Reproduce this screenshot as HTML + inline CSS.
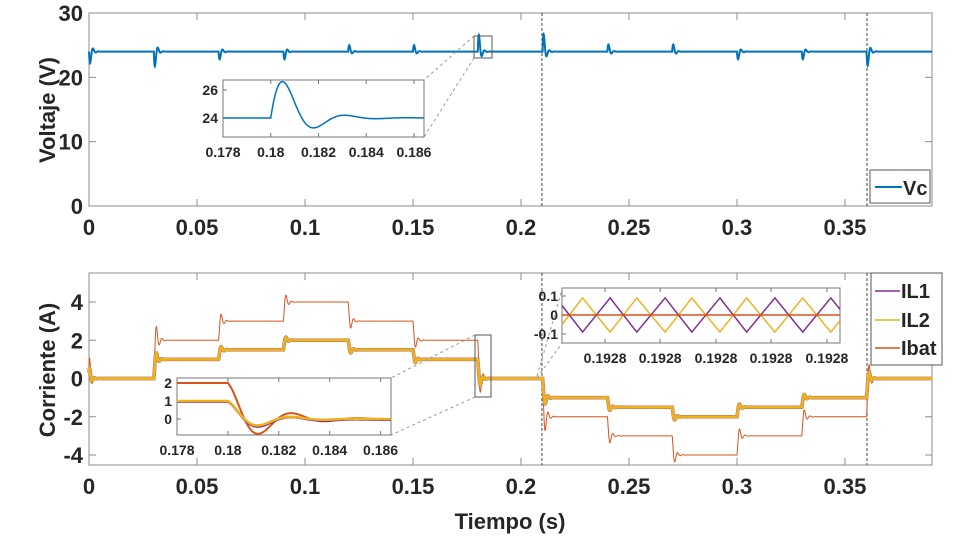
<!DOCTYPE html>
<html><head><meta charset="utf-8"><style>
body{margin:0;background:#fff}
svg text{font-family:"Liberation Sans",Arial,sans-serif;font-weight:bold;fill:#262626}
</style></head><body>
<svg id="c" width="953" height="543" viewBox="0 0 953 543" xmlns="http://www.w3.org/2000/svg"></svg>
<script>
// ---- data ----
const xTicks = [0, 0.05, 0.1, 0.15, 0.2, 0.25, 0.3, 0.35];
const xTickLabels = ["0", "0.05", "0.1", "0.15", "0.2", "0.25", "0.3", "0.35"];
const vTicks = [0, 10, 20, 30];
const iTicks = [-4, -2, 0, 2, 4];
const vcBase = 24;
const vcEventTimes = [0, 0.03, 0.06, 0.09, 0.12, 0.15, 0.18, 0.21, 0.24, 0.27, 0.30, 0.33, 0.36];
const vcEventAmps = [-1.8, -2.3, -1.2, -1.2, 1.0, 1.0, 2.6, 2.7, 1.1, 1.1, -1.2, -1.2, -2.2];
const stepTimes = [0.03, 0.06, 0.09, 0.12, 0.15, 0.18, 0.21, 0.24, 0.27, 0.30, 0.33, 0.36];
const ibatLevels = [0, 2, 3, 4, 3, 2, 0, -2, -3, -4, -3, -2, 0];
const ilLevels = [0, 1, 1.5, 2, 1.5, 1, 0, -1, -1.5, -2, -1.5, -1, 0];
const dashTimes = [0.2097, 0.3602];
const inset1Ticks = [0.178, 0.18, 0.182, 0.184, 0.186];
const inset1TickLabels = ["0.178", "0.18", "0.182", "0.184", "0.186"];
const insetVTicks = [24, 26];
const inset2YTicks = [0, 1, 2];
const rippleT = [0, 7.4, 17.3, 26.9, 37.1, 46.7, 56.8, 66.4, 76.6, 86.6, 96.7, 100];
const rippleIL1 = [0.05, -0.09, 0.09, -0.09, 0.09, -0.09, 0.09, -0.09, 0.09, -0.09, 0.09, 0.03];
const rippleIL2 = [-0.05, 0.09, -0.09, 0.09, -0.09, 0.09, -0.09, 0.09, -0.09, 0.09, -0.09, -0.03];
const rippleTicks = [15.5, 35.3, 55.4, 75.2, 95.3];
const rippleTickLabels = ["0.1928", "0.1928", "0.1928", "0.1928", "0.1928"];
const rippleYTicks = [-0.1, 0, 0.1];
const rippleYLabels = ["-0.1", "0", "0.1"];

const C = {blue:"#0072BD", orange:"#D95319", yellow:"#EDB120", purple:"#7E2F8E"};
const svg = document.getElementById('c');
const NS = "http://www.w3.org/2000/svg";
function el(tag, attrs, parent){const e=document.createElementNS(NS,tag);for(const k in attrs)e.setAttribute(k,attrs[k]);(parent||svg).appendChild(e);return e;}
function lin(d0,d1,r0,r1){return v=>r0+(v-d0)*(r1-r0)/(d1-d0);}

function vcAt(t){let v=vcBase;for(let i=0;i<vcEventTimes.length;i++){const tau=t-vcEventTimes[i];if(tau>=0&&tau<0.02){v+=vcEventAmps[i]*1.76*Math.exp(-tau/0.001)*Math.sin(2*Math.PI*tau/0.0026);}}return v;}
function curAt(t,levels,T){let idx=0;for(let i=0;i<stepTimes.length;i++)if(t>=stepTimes[i])idx=i+1;let v=levels[idx];for(let i=0;i<stepTimes.length;i++){const tau=t-stepTimes[i];if(tau>=0&&tau<0.02){const d=levels[i+1]-levels[i];v-=d*Math.exp(-tau/T)*Math.cos(2*Math.PI*tau/0.0026);}}
 if(t<0.015){v+=(levels===ibatLevels?1.6:0.8)*Math.exp(-t/0.0008)*Math.sin(2*Math.PI*t/0.0022+0.4);}return v;}

function pathFrom(fn,t0,t1,dt,sx,sy){let d="";for(let t=t0;t<=t1+1e-12;t+=dt){d+=(d?"L":"M")+sx(t).toFixed(2)+","+sy(fn(t)).toFixed(2);}return d;}

const X0=89,X1=932,TMAX=0.3903;
const sx=lin(0,TMAX,X0,X1);
function axesBox(name,top,bot,yt,sy){
 const g=el('g',{});
 el('rect',{x:X0,y:top,width:X1-X0,height:bot-top,fill:"#fff",stroke:"#8c8c8c","stroke-width":1},g);
 xTicks.forEach((v,i)=>{const x=sx(v);el('line',{x1:x,x2:x,y1:bot,y2:bot-7,stroke:"#8c8c8c"},g);el('line',{x1:x,x2:x,y1:top,y2:top+7,stroke:"#8c8c8c"},g);
  const t=el('text',{x:x,y:bot+29,"text-anchor":"middle","font-size":22},g);t.textContent=xTickLabels[i];});
 yt.forEach(v=>{const y=sy(v);el('line',{x1:X0,x2:X0+7,y1:y,y2:y,stroke:"#8c8c8c"},g);el('line',{x1:X1,x2:X1-7,y1:y,y2:y,stroke:"#8c8c8c"},g);
  const t=el('text',{x:X0-6,y:y+8,"text-anchor":"end","font-size":22},g);t.textContent=String(v);});
 return g;}

const syV=lin(0,30,206,13);
axesBox('voltage-axes',13,206,vTicks,syV);
dashTimes.forEach(t=>{const l=el('line',{x1:sx(t),x2:sx(t),y1:13,y2:206,stroke:"#444","stroke-dasharray":"3,2","stroke-width":1});});
const vcp=el('path',{d:pathFrom(vcAt,0,TMAX,0.0001,sx,syV),fill:"none",stroke:C.blue,"stroke-width":2});

el('rect',{x:474,y:36,width:18,height:22,fill:"none",stroke:"#555","stroke-width":1});
el('line',{x1:474,y1:36,x2:424,y2:80,stroke:"#999","stroke-dasharray":"3,3"});
el('line',{x1:474,y1:58,x2:424,y2:137,stroke:"#999","stroke-dasharray":"3,3"});
let t=el('text',{x:55,y:110,"text-anchor":"middle","font-size":22,transform:"rotate(-90 55 110)"});t.textContent="Voltaje (V)";
let lg=el('g',{});
el('rect',{x:870,y:170,width:60,height:33,fill:"#fff",stroke:"#555"},lg);
el('line',{x1:875,x2:902,y1:187,y2:187,stroke:C.blue,"stroke-width":2},lg);
t=el('text',{x:903,y:195,"font-size":20},lg);t.textContent="Vc";

(function(){const L=223,R=424,T=80,B=137;const ix=lin(0.178,0.18642,L,R),iy=lin(22.64,26.71,B,T);
 const g=el('g',{});
 el('rect',{x:L,y:T,width:R-L,height:B-T,fill:"#fff",stroke:"#777"},g);
 inset1Ticks.forEach((v,i)=>{const x=ix(v);el('line',{x1:x,x2:x,y1:B,y2:B-4,stroke:"#777"},g);el('line',{x1:x,x2:x,y1:T,y2:T+4,stroke:"#777"},g);const tt=el('text',{x:x,y:B+20,"text-anchor":"middle","font-size":14},g);tt.textContent=inset1TickLabels[i];});
 insetVTicks.forEach(v=>{const y=iy(v);el('line',{x1:L,x2:L+4,y1:y,y2:y,stroke:"#777"},g);const tt=el('text',{x:L-5,y:y+5,"text-anchor":"end","font-size":14},g);tt.textContent=String(v);});
 el('path',{d:pathFrom(vcAt,0.178,0.18642,0.00002,ix,iy),fill:"none",stroke:C.blue,"stroke-width":1.5},g);})();

const syI=lin(-4,4,455,302);
axesBox('current-axes',273,465,iTicks,syI);
dashTimes.forEach(t=>{const l=el('line',{x1:sx(t),x2:sx(t),y1:273,y2:465,stroke:"#444","stroke-dasharray":"3,2","stroke-width":1});});
const ib=el('path',{d:pathFrom(tt=>curAt(tt,ibatLevels,0.0012),0,TMAX,0.0001,sx,syI),fill:"none",stroke:C.orange,"stroke-width":1});

const p1=el('path',{d:pathFrom(tt=>curAt(tt,ilLevels,0.0011),0,TMAX,0.0001,sx,syI),fill:"none",stroke:C.purple,"stroke-width":3.5});

const p2=el('path',{d:pathFrom(tt=>curAt(tt,ilLevels,0.0011),0,TMAX,0.0001,sx,syI),fill:"none",stroke:C.yellow,"stroke-width":3});

el('rect',{x:475,y:335,width:16,height:62,fill:"none",stroke:"#555"});
el('line',{x1:475,y1:335,x2:391,y2:378,stroke:"#999","stroke-dasharray":"3,3"});
el('line',{x1:475,y1:397,x2:391,y2:435,stroke:"#999","stroke-dasharray":"3,3"});
el('line',{x1:537,y1:376,x2:562,y2:290,stroke:"#999","stroke-dasharray":"3,3"});
el('line',{x1:537,y1:378,x2:562,y2:343,stroke:"#999","stroke-dasharray":"3,3"});
t=el('text',{x:55,y:370,"text-anchor":"middle","font-size":22,transform:"rotate(-90 55 370)"});t.textContent="Corriente (A)";
t=el('text',{x:510,y:529,"text-anchor":"middle","font-size":22});t.textContent="Tiempo (s)";

(function(){const L=177,R=391,T=378,B=435;const ix=lin(0.178,0.18641,L,R),iy=lin(-0.89,2.28,B,T);
 const g=el('g',{});
 el('rect',{x:L,y:T,width:R-L,height:B-T,fill:"#fff",stroke:"#777"},g);
 inset1Ticks.forEach((v,i)=>{const x=ix(v);el('line',{x1:x,x2:x,y1:B,y2:B-4,stroke:"#777"},g);el('line',{x1:x,x2:x,y1:T,y2:T+4,stroke:"#777"},g);const tt=el('text',{x:x,y:B+20,"text-anchor":"middle","font-size":14},g);tt.textContent=inset1TickLabels[i];});
 inset2YTicks.forEach(v=>{const y=iy(v);el('line',{x1:L,x2:L+4,y1:y,y2:y,stroke:"#777"},g);const tt=el('text',{x:L-5,y:y+5,"text-anchor":"end","font-size":14},g);tt.textContent=String(v);});
 el('path',{d:pathFrom(tt=>curAt(tt,ibatLevels,0.0014),0.178,0.18641,0.00002,ix,iy),fill:"none",stroke:C.orange,"stroke-width":2},g);
 el('path',{d:pathFrom(tt=>curAt(tt,ilLevels,0.0013)-0.05,0.178,0.18641,0.00002,ix,iy),fill:"none",stroke:C.purple,"stroke-width":2},g);
 el('path',{d:pathFrom(tt=>curAt(tt,ilLevels,0.0012),0.178,0.18641,0.00002,ix,iy),fill:"none",stroke:C.yellow,"stroke-width":2.5},g);})();

(function(){const L=562,R=840,T=288,B=343;const ix=lin(0,100,L,R),iy=lin(-0.1,0.1,334,296);
 const g=el('g',{});
 el('rect',{x:L,y:T,width:R-L,height:B-T,fill:"#fff",stroke:"#777"},g);
 rippleTicks.forEach((v,i)=>{const x=ix(v);el('line',{x1:x,x2:x,y1:B,y2:B-4,stroke:"#777"},g);el('line',{x1:x,x2:x,y1:T,y2:T+4,stroke:"#777"},g);const tt=el('text',{x:x,y:B+20,"text-anchor":"middle","font-size":14},g);tt.textContent=rippleTickLabels[i];});
 rippleYTicks.forEach((v,i)=>{const y=iy(v);el('line',{x1:L,x2:L+4,y1:y,y2:y,stroke:"#777"},g);const tt=el('text',{x:L-4,y:y+5,"text-anchor":"end","font-size":14},g);tt.textContent=rippleYLabels[i];});
 function poly(arr){return rippleT.map((v,i)=>(i?"L":"M")+ix(v).toFixed(1)+","+iy(arr[i]).toFixed(1)).join("");}
 el('path',{d:poly(rippleIL2),fill:"none",stroke:C.yellow,"stroke-width":1.5},g);
 el('path',{d:poly(rippleIL1),fill:"none",stroke:C.purple,"stroke-width":1.5},g);
 el('line',{x1:L,x2:R,y1:iy(0),y2:iy(0),stroke:C.orange,"stroke-width":1.5},g);})();

lg=el('g',{});
el('rect',{x:871,y:273,width:71,height:92,fill:"#fff",stroke:"#555"},lg);
[["IL1",C.purple,291],["IL2",C.yellow,320],["Ibat",C.orange,348]].forEach(r=>{
 el('line',{x1:875,x2:900,y1:r[2],y2:r[2],stroke:r[1],"stroke-width":1.5},lg);
 const tt=el('text',{x:901,y:r[2]+7,"font-size":20},lg);tt.textContent=r[0];});
</script>
</body></html>
